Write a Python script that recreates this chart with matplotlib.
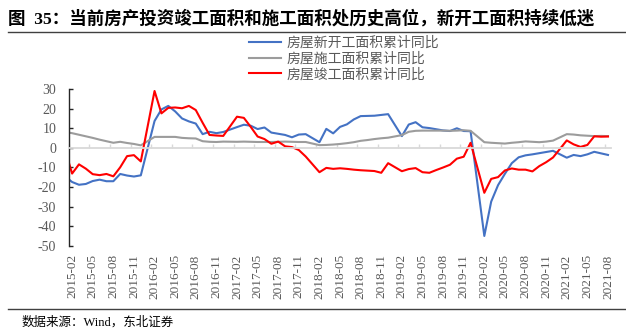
import numpy as np
import pandas as pd
import matplotlib
matplotlib.use('Agg')
import matplotlib.pyplot as plt
from matplotlib.lines import Line2D

plt.rcParams['axes.unicode_minus'] = False

# Monthly cumulative YoY (%), 2014-12 .. 2021-08, January not published (None)
months = pd.period_range('2014-12', '2021-08', freq='M').strftime('%Y-%m').tolist()

new_start = [-11.8,
             None, -17.4, -18.8, -18.4, -16.9, -16.2, -17.0, -17.0, -13.3, -14.1, -14.6, -14.0,
             None, 13.7, 19.6, 21.4, 18.6, 15.0, 13.5, 12.4, 7.0, 8.2, 7.5, 8.1,
             None, 10.6, 11.8, 11.3, 9.6, 10.4, 7.8, 7.2, 6.6, 5.4, 6.8, 7.0,
             None, 2.9, 9.7, 7.4, 10.7, 12.0, 14.5, 16.2, 16.3, 16.4, 16.8, 17.2,
             None, 6.0, 11.9, 13.1, 10.5, 10.1, 9.5, 8.9, 8.6, 10.0, 8.6, 8.5,
             None, -44.9, -27.4, -19.0, -13.2, -7.8, -4.8, -3.8, -3.3, -2.7, -2.1, -1.5,
             None, -5.0, -3.6, -4.2, -3.3, -2.0, -2.8, -3.6]

under_constr = [8.7,
                None, 7.5, 6.7, 5.9, 5.1, 4.2, 3.4, 2.6, 3.1, 2.5, 2.0, 1.3,
                None, 5.6, 5.6, 5.6, 5.6, 5.1, 4.9, 4.8, 3.4, 3.1, 3.0, 3.2,
                None, 3.1, 3.2, 3.1, 3.0, 3.0, 3.0, 3.1, 3.2, 3.1, 3.0, 3.0,
                None, 1.4, 1.5, 1.7, 2.0, 2.4, 2.9, 3.6, 4.0, 4.5, 4.9, 5.2,
                None, 6.5, 8.2, 8.7, 8.8, 8.8, 8.8, 8.8, 8.7, 8.8, 9.0, 8.7,
                None, 2.9, 2.6, 2.4, 2.2, 2.6, 2.9, 3.3, 3.1, 2.9, 3.2, 3.7,
                None, 7.0, 6.8, 6.4, 6.2, 6.0, 6.1, 6.0]

completed = [10.5,
             None, -13.1, -8.4, -10.6, -13.4, -13.9, -13.3, -14.5, -9.9, -4.2, -3.7, -6.9,
             None, 29.0, 17.6, 20.4, 20.6, 20.2, 21.4, 19.3, 12.8, 6.6, 6.3, 6.1,
             None, 15.9, 15.3, 10.7, 5.8, 4.5, 2.1, 3.2, 0.8, 0.4, -1.1, -4.4,
             None, -12.4, -10.2, -10.7, -10.4, -10.7, -11.1, -11.4, -11.6, -11.8, -12.7, -7.8,
             None, -11.9, -10.8, -10.3, -12.4, -12.7, -11.3, -10.0, -8.6, -5.5, -4.5, 2.6,
             None, -22.9, -15.8, -14.9, -11.5, -10.5, -11.1, -11.1, -12.0, -9.3, -7.3, -4.9,
             None, 3.8, 1.8, 0.5, 1.5, 5.9, 5.7, 5.8]

series = [('房屋新开工面积累计同比', new_start, '#4472C4'),
          ('房屋施工面积累计同比', under_constr, '#9C9C9C'),
          ('房屋竣工面积累计同比', completed, '#FF0000')]

cjk = ['Liberation Serif', 'Noto Sans CJK SC']
grey_txt = '#595959'

# category positions: 2015-02 -> 0
pos = np.arange(len(months)) - 2

fig = plt.figure(figsize=(6.26, 3.36), dpi=100)
ax = fig.add_axes([0.1097, 0.268, 0.867, 0.467])

for name, vals, col in series:
    v = np.array([np.nan if x is None else x for x in vals])
    ok = ~np.isnan(v)
    # Excel-style: connect across the missing January values
    ax.plot(pos[ok], v[ok], color=col, lw=1.5, label=name, solid_joinstyle='round')

ax.set_xlim(-0.5, 78.5)
ax.set_ylim(-50, 30)
ax.set_yticks(np.arange(-50, 31, 10))

for s in ['top', 'right']:
    ax.spines[s].set_visible(False)
ax.spines['left'].set_color('#262626')
ax.spines['left'].set_linewidth(1.0)
ax.spines['bottom'].set_position(('data', 0))
ax.spines['bottom'].set_color('#d9d9d9')
ax.spines['bottom'].set_linewidth(1.3)

ax.tick_params(axis='y', direction='in', length=3, width=1, color='#262626',
               labelsize=10, labelcolor=grey_txt, pad=9)
for lab in ax.get_yticklabels():
    lab.set_fontfamily('Liberation Serif')

# ticks on the zero line at category boundaries, every 3 months
ax.set_xticks(np.arange(-0.5, 79, 3))
ax.tick_params(axis='x', direction='in', length=3, width=1, color='#d9d9d9',
               labelbottom=False)

# date labels at the bottom of the plot
tick_idx = list(range(0, 79, 3))
sec = ax.secondary_xaxis(0)
sec.set_xticks(tick_idx, [months[i + 2] for i in tick_idx])
sec.spines['bottom'].set_visible(False)
sec.tick_params(axis='x', length=0, labelsize=9.5, labelcolor=grey_txt, pad=6,
                labelrotation=90)
for lab in sec.get_xticklabels():
    lab.set_fontfamily('Liberation Serif')

leg = fig.legend(loc='upper left', bbox_to_anchor=(0.385, 0.918), frameon=False,
                 borderpad=0.1, handlelength=2.3, handletextpad=0.4, labelspacing=0.12,
                 prop={'family': 'Noto Sans CJK SC', 'size': 10})
for t in leg.get_texts():
    t.set_color(grey_txt)

fig.text(0.013, 0.945, '图  35：当前房产投资竣工面积和施工面积处历史高位，新开工面积持续低迷',
         fontsize=12.6, fontweight='bold', family=cjk, va='center', ha='left')
fig.text(0.035, 0.040, '数据来源：Wind，东北证券', fontsize=9, family=cjk,
         va='center', ha='left')

fig.add_artist(Line2D([0.013, 1.0], [0.905, 0.905], transform=fig.transFigure,
                      color='#404040', lw=1.0))
fig.add_artist(Line2D([0.013, 1.0], [0.080, 0.080], transform=fig.transFigure,
                      color='#404040', lw=1.0))

fig.savefig('out.png', dpi=100)
